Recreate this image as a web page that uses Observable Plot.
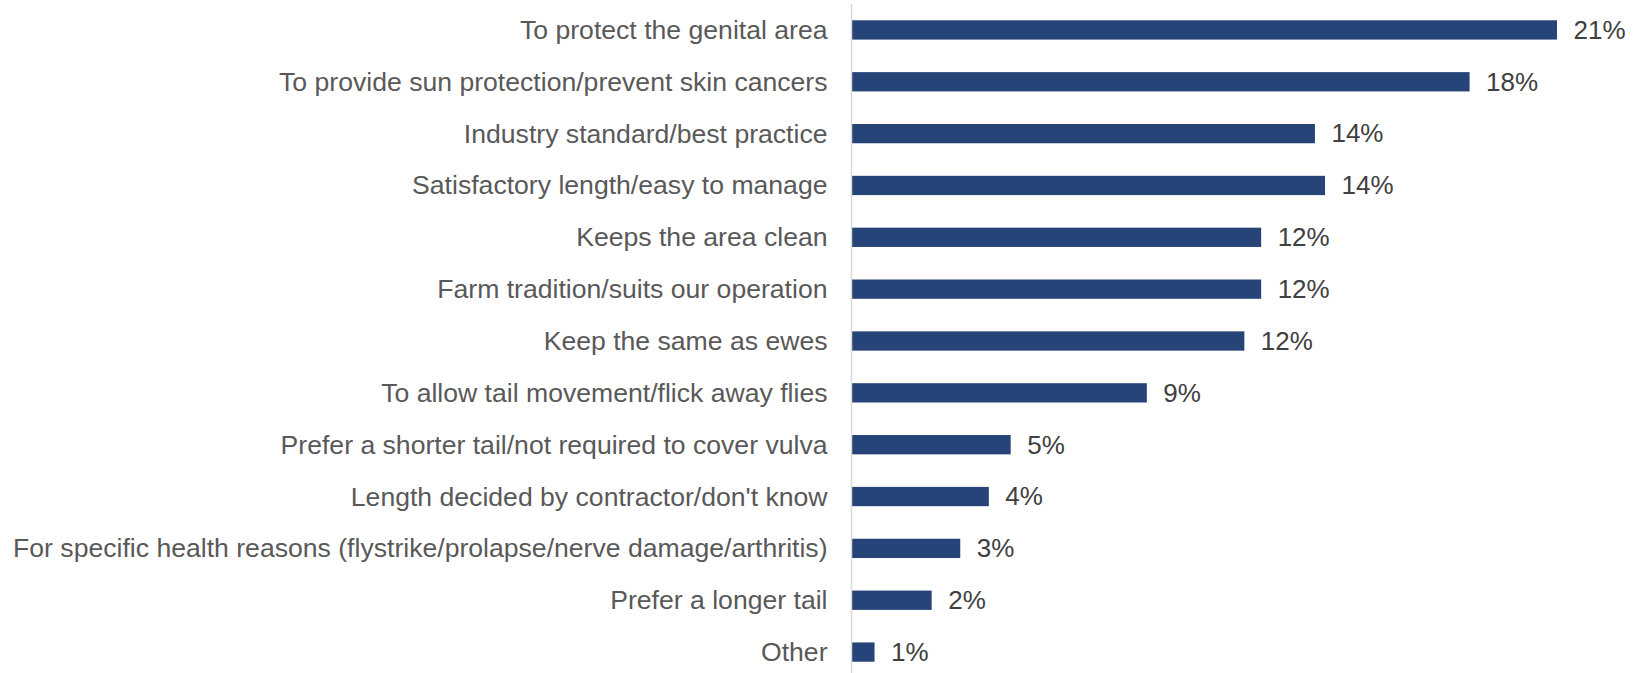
<!DOCTYPE html>
<html>
<head>
<meta charset="utf-8">
<script src="https://cdn.jsdelivr.net/npm/d3@7"></script>
<script src="https://cdn.jsdelivr.net/npm/@observablehq/plot@0.6"></script>
<style>
  html, body { margin: 0; padding: 0; background: #fff; overflow: hidden; }
  #chart svg { display: block; font-family: "Liberation Sans", Arial, sans-serif; }
</style>
</head>
<body>
<div id="chart"></div>
<script>
const categories = [
  "To protect the genital area",
  "To provide sun protection/prevent skin cancers",
  "Industry standard/best practice",
  "Satisfactory length/easy to manage",
  "Keeps the area clean",
  "Farm tradition/suits our operation",
  "Keep the same as ewes",
  "To allow tail movement/flick away flies",
  "Prefer a shorter tail/not required to cover vulva",
  "Length decided by contractor/don't know",
  "For specific health reasons (flystrike/prolapse/nerve damage/arthritis)",
  "Prefer a longer tail",
  "Other"
];
const values = [21, 18.4, 13.8, 14.1, 12.2, 12.2, 11.7, 8.8, 4.75, 4.1, 3.25, 2.4, 0.7];
const valueLabels = ["21%", "18%", "14%", "14%", "12%", "12%", "12%", "9%", "5%", "4%", "3%", "2%", "1%"];

const data = categories.map((c, i) => ({category: c, value: values[i], label: valueLabels[i]}));

const W = 1633, H = 673;
const chart = Plot.plot({
  width: W,
  height: H,
  marginLeft: 851,
  marginRight: 76,
  marginTop: 4,
  marginBottom: 0,
  style: {fontFamily: "'Liberation Sans', Arial, sans-serif", background: "#fff"},
  x: {domain: [0, 21], range: [851, 1557], axis: null},
  y: {domain: categories, range: [4, 678], paddingInner: 0.628, paddingOuter: 0.314, round: false, label: null},
  marks: [
    Plot.barX(data, {x: "value", y: "category", fill: "#264478"}),
    Plot.ruleX([0], {stroke: "#d9d9d9", strokeWidth: 1.5}),
    Plot.axisY({tickSize: 0, tickPadding: 24, fontSize: 26.6, fill: "#595959", label: null}),
    Plot.text(data, {x: "value", y: "category", text: "label", dx: 16, textAnchor: "start", fontSize: 26, fill: "#404040"})
  ]
});
document.getElementById("chart").appendChild(chart);
</script>
</body>
</html>
